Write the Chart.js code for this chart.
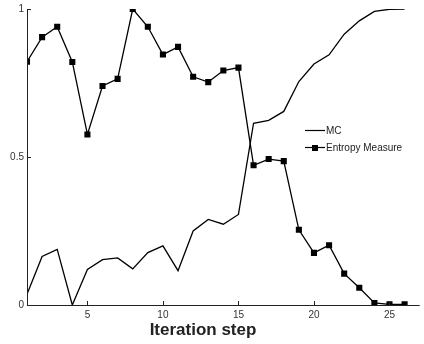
<!DOCTYPE html>
<html>
<head>
<meta charset="utf-8">
<script src="https://cdn.jsdelivr.net/npm/chart.js@4"></script>
<style>
  html, body { margin: 0; padding: 0; background: #fff; }
  #wrap { width: 424px; height: 344px; }
</style>
</head>
<body>
<div id="wrap"><canvas id="chart" width="424" height="344"></canvas></div>
<script>
// iteration steps 1..26
const steps = [1, 2, 3, 4, 5, 6, 7, 8, 9, 10, 11, 12, 13, 14, 15, 16, 17, 18, 19, 20, 21, 22, 23, 24, 25, 26];
const mcValues = [0.036, 0.164, 0.188, 0.0, 0.12, 0.153, 0.159, 0.122, 0.177, 0.2, 0.116, 0.25, 0.289,
    0.273, 0.306, 0.614, 0.624, 0.654, 0.755, 0.814, 0.845, 0.915, 0.96, 0.992, 0.999, 1.0];
const entropyValues = [0.822, 0.905, 0.94, 0.821, 0.576, 0.74, 0.764, 1.0, 0.94, 0.846, 0.872, 0.771, 0.753,
    0.792, 0.802, 0.472, 0.493, 0.486, 0.254, 0.176, 0.202, 0.106, 0.058, 0.007, 0.002, 0.002];
const xTicks = [5, 10, 15, 20, 25];
const yTicks = [0, 0.5, 1];
const xTitle = 'Iteration step';

const FONT = '"Liberation Sans", Arial, sans-serif';

function toPoints(ys) {
    return steps.map(function (s, i) { return { x: s, y: ys[i] }; });
}

// axis lines with short inward tick marks (no box on top/right)
const axesPlugin = {
    id: 'innerAxes',
    afterDatasetsDraw(chart) {
        const ctx = chart.ctx;
        const a = chart.chartArea;
        const xs = chart.scales.x, ys = chart.scales.y;
        ctx.save();
        ctx.strokeStyle = '#222';
        ctx.lineWidth = 1;
        ctx.beginPath();
        ctx.moveTo(a.left + 0.5, a.top);
        ctx.lineTo(a.left + 0.5, a.bottom + 0.5);
        ctx.lineTo(a.right, a.bottom + 0.5);
        xTicks.forEach(function (t) {
            const px = Math.round(xs.getPixelForValue(t)) + 0.5;
            ctx.moveTo(px, a.bottom);
            ctx.lineTo(px, a.bottom - 4);
        });
        yTicks.forEach(function (t) {
            const py = Math.round(ys.getPixelForValue(t)) + 0.5;
            ctx.moveTo(a.left, py);
            ctx.lineTo(a.left + 4, py);
        });
        ctx.stroke();

        // x axis title, sitting a bit left of the plot centre
        ctx.font = 'bold 17px ' + FONT;
        ctx.fillStyle = '#222';
        ctx.textAlign = 'center';
        ctx.textBaseline = 'alphabetic';
        ctx.fillText(xTitle, 203, 335);
        ctx.restore();
    }
};

// small legend box inside the plot
const legendPlugin = {
    id: 'boxLegend',
    afterDraw(chart) {
        const ctx = chart.ctx;
        const x0 = 305, y0 = 130, rowH = 17;
        ctx.save();
        ctx.font = '10px ' + FONT;
        ctx.textBaseline = 'middle';
        chart.data.datasets.forEach(function (ds, i) {
            const y = y0 + i * rowH;
            ctx.strokeStyle = '#000';
            ctx.lineWidth = 1.2;
            ctx.beginPath();
            ctx.moveTo(x0, y + 0.5);
            ctx.lineTo(x0 + 20, y + 0.5);
            ctx.stroke();
            if (ds.pointRadius > 0) {
                ctx.fillStyle = '#000';
                ctx.fillRect(x0 + 7, y - 2, 6, 6);
            }
            ctx.fillStyle = '#222';
            ctx.fillText(ds.label, x0 + 21, y + 1);
        });
        ctx.restore();
    }
};

new Chart(document.getElementById('chart'), {
    type: 'line',
    data: {
        datasets: [
            {
                label: 'MC',
                data: toPoints(mcValues),
                borderColor: '#000',
                borderWidth: 1.3,
                pointRadius: 0,
                tension: 0
            },
            {
                label: 'Entropy Measure',
                data: toPoints(entropyValues),
                borderColor: '#000',
                backgroundColor: '#000',
                borderWidth: 1.3,
                pointStyle: 'rect',
                pointRadius: 4.3,
                pointBorderWidth: 0,
                tension: 0
            }
        ]
    },
    options: {
        responsive: false,
        animation: false,
        layout: { padding: { left: 0, right: 2, top: 7, bottom: 0 } },
        plugins: {
            legend: { display: false },
            tooltip: { enabled: false }
        },
        scales: {
            x: {
                type: 'linear',
                min: 1,
                max: 27,
                afterBuildTicks(scale) {
                    scale.ticks = xTicks.map(function (v) { return { value: v }; });
                },
                afterFit(scale) { scale.height = 39; },
                grid: { display: false, drawTicks: false },
                border: { display: false },
                ticks: {
                    font: { family: FONT, size: 10 },
                    color: '#333',
                    padding: 4,
                    maxRotation: 0
                }
            },
            y: {
                min: 0,
                max: 1,
                afterBuildTicks(scale) {
                    scale.ticks = yTicks.map(function (v) { return { value: v }; });
                },
                afterFit(scale) { scale.width = 27; },
                grid: { display: false, drawTicks: false },
                border: { display: false },
                ticks: {
                    font: { family: FONT, size: 10 },
                    color: '#333',
                    padding: 3,
                    callback: function (v) { return String(v); }
                }
            }
        }
    },
    plugins: [axesPlugin, legendPlugin]
});
</script>
</body>
</html>
